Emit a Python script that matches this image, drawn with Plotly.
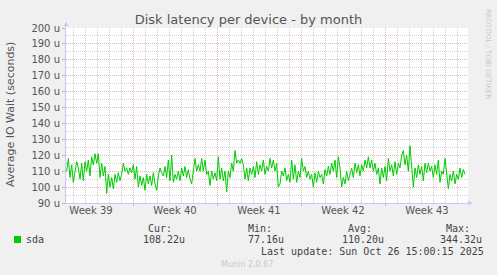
import pandas as pd
import plotly.graph_objects as go

# ---- data ----
series_name = "sda"
start_time = "2025-09-23 11:20"
step_minutes = 200
sda_values = [
    110, 118, 106, 114, 103, 110, 116, 112, 105, 115, 104, 116, 110, 117, 107, 119, 114, 121, 115, 121,
    106, 115, 107, 113, 96, 108, 100, 106, 99, 108, 103, 109, 104, 108, 115, 110, 112, 108, 112, 109,
    114, 105, 113, 100, 107, 101, 106, 98, 108, 102, 107, 101, 109, 102, 98, 107, 112, 109, 107, 113,
    106, 117, 104, 120, 103, 108, 105, 110, 104, 112, 107, 113, 106, 111, 105, 102, 110, 118, 110, 114,
    110, 118, 110, 117, 108, 110, 101, 110, 105, 109, 104, 119, 105, 112, 104, 110, 97, 110, 106, 115,
    110, 123, 115, 117, 115, 118, 114, 105, 112, 104,
    112, 108, 113, 106, 116, 108, 114, 110, 117, 108, 113, 110, 118, 112, 117, 110, 115, 100, 102, 110,
    107, 112, 104, 108, 103, 117, 105, 114, 103, 110, 106, 118, 110, 113, 106, 110, 105, 108, 100, 109,
    103, 110, 106, 108, 102, 111, 107, 113, 108, 115, 110, 117, 106, 119, 112, 100, 106, 102, 110, 104,
    108, 112, 106, 115, 109, 114, 107, 114, 110, 117, 112, 119, 112, 117, 110, 115, 108, 112, 102, 112,
    106, 113, 104, 118, 110, 114, 107, 116, 108, 115, 112, 120, 123, 114, 120, 110, 126, 115, 100, 112,
    106, 114, 108, 113, 104, 115, 109, 115, 110, 113, 106, 114, 108, 117, 103, 110, 108, 118, 108, 99,
    108, 104, 110, 102, 108, 105, 112, 106, 111, 108,
]
week_labels = ["Week 39", "Week 40", "Week 41", "Week 42", "Week 43"]
week_starts = ["2025-09-22", "2025-09-29", "2025-10-06", "2025-10-13", "2025-10-20"]
x_range = ["2025-09-23 10:00", "2025-10-26 22:00"]
y_range = [90, 200]
stat_labels = ["Cur:", "Min:", "Avg:", "Max:"]
stat_values = ["108.22u", "77.16u", "110.20u", "344.32u"]
last_update = "Last update: Sun Oct 26 15:00:15 2025"

times = pd.date_range(start=start_time, periods=len(sda_values), freq=f"{step_minutes}min")
week_mid = pd.to_datetime(week_starts) + pd.Timedelta(hours=84)

# ---- layout geometry (pixels) ----
W, H = 497, 275
L, R, T, B = 66, 29, 28, 72
PW, PH = W - L - R, H - T - B


def px(x):
    return (x - L) / PW


def py(y):
    return (H - B - y) / PH


MAJOR = "rgba(210,120,120,0.55)"
MINOR = "rgba(170,170,170,0.55)"
AXIS = "#c8c8f4"
DASH = "1px,1px"
DAY = 86400000

fig = go.Figure()
fig.add_trace(go.Scatter(x=times, y=sda_values, mode="lines",
                         line=dict(color="#00cc00", width=1), showlegend=False,
                         hoverinfo="skip"))
fig.add_trace(go.Scatter(x=[], y=[], xaxis="x2", showlegend=False, hoverinfo="skip"))

fig.update_layout(
    width=W, height=H,
    margin=dict(l=L, r=R, t=T, b=B),
    paper_bgcolor="#f0f0f0", plot_bgcolor="#ffffff",
    font=dict(family="DejaVu Sans", size=10, color="#555555"),
    title=dict(text="Disk latency per device - by month", x=0.5, xanchor="center",
               y=1 - 19.5 / H, yanchor="middle",
               font=dict(family="DejaVu Sans", size=13, color="#555555")),
    xaxis=dict(type="date", range=x_range, tick0=week_starts[0], dtick=7 * DAY,
               showticklabels=False, showgrid=True, gridcolor=MAJOR, griddash=DASH,
               gridwidth=1, ticks="outside", ticklen=2, tickcolor=MAJOR,
               showline=True, linecolor=AXIS, linewidth=1,
               minor=dict(tick0=week_starts[0], dtick=DAY, showgrid=True,
                          gridcolor=MINOR, griddash=DASH, gridwidth=1)),
    xaxis2=dict(type="date", range=x_range, overlaying="x", anchor="y", side="bottom",
                tickmode="array", tickvals=list(week_mid), ticktext=week_labels,
                showgrid=False, ticks="", showline=False,
                tickfont=dict(family="DejaVu Sans", size=10, color="#555555")),
    yaxis=dict(range=y_range, tick0=0, dtick=10, ticksuffix=" u",
               showgrid=True, gridcolor=MAJOR, griddash=DASH, gridwidth=1,
               ticks="outside", ticklen=3, tickcolor=MAJOR, zeroline=False,
               showline=True, linecolor=AXIS, linewidth=1,
               tickfont=dict(family="DejaVu Sans", size=10, color="#555555"),
               minor=dict(dtick=5, showgrid=True, gridcolor=MINOR, griddash=DASH,
                          gridwidth=1)),
)

shapes = [
    # axis arrows
    dict(type="path", xref="paper", yref="paper",
         path=f"M {px(63.5)} {py(26.5)} L {px(68.5)} {py(26.5)} L {px(66)} {py(21.5)} Z",
         fillcolor=AXIS, line=dict(width=0)),
    dict(type="path", xref="paper", yref="paper",
         path=f"M {px(468)} {py(200.5)} L {px(468)} {py(205.5)} L {px(473)} {py(203)} Z",
         fillcolor=AXIS, line=dict(width=0)),
    # legend swatch
    dict(type="rect", xref="paper", yref="paper",
         x0=px(14), x1=px(21), y0=py(243), y1=py(236),
         fillcolor="#00cc00", line=dict(width=0)),
]
fig.update_layout(shapes=shapes)

mono = dict(family="DejaVu Sans Mono", size=10, color="#444444")
ann = [
    dict(text="Average IO Wait (seconds)", x=px(10), y=py(115), textangle=-90,
         font=dict(family="DejaVu Sans", size=11, color="#555555")),
    dict(text="RRDTOOL / TOBI OETIKER", x=px(488), y=py(54), textangle=90,
         font=dict(family="DejaVu Sans", size=7, color="#c8c8c8")),
    dict(text=series_name, x=px(35), y=py(239.5), font=mono),
    dict(text=last_update, x=px(372), y=py(251), font=mono),
    dict(text="Munin 2.0.67", x=px(247), y=py(264),
         font=dict(family="DejaVu Sans", size=8, color="#c8c8c8")),
]
label_cx = [160, 260, 360, 458]
value_cx = [164, 266, 363, 461]
for lab, val, lx, vx in zip(stat_labels, stat_values, label_cx, value_cx):
    ann.append(dict(text=lab, x=px(lx), y=py(228), font=mono))
    ann.append(dict(text=val, x=px(vx), y=py(239.5), font=mono))
for a in ann:
    a.update(xref="paper", yref="paper", showarrow=False, xanchor="center", yanchor="middle")
fig.update_layout(annotations=ann)

fig.write_html("out.html")
